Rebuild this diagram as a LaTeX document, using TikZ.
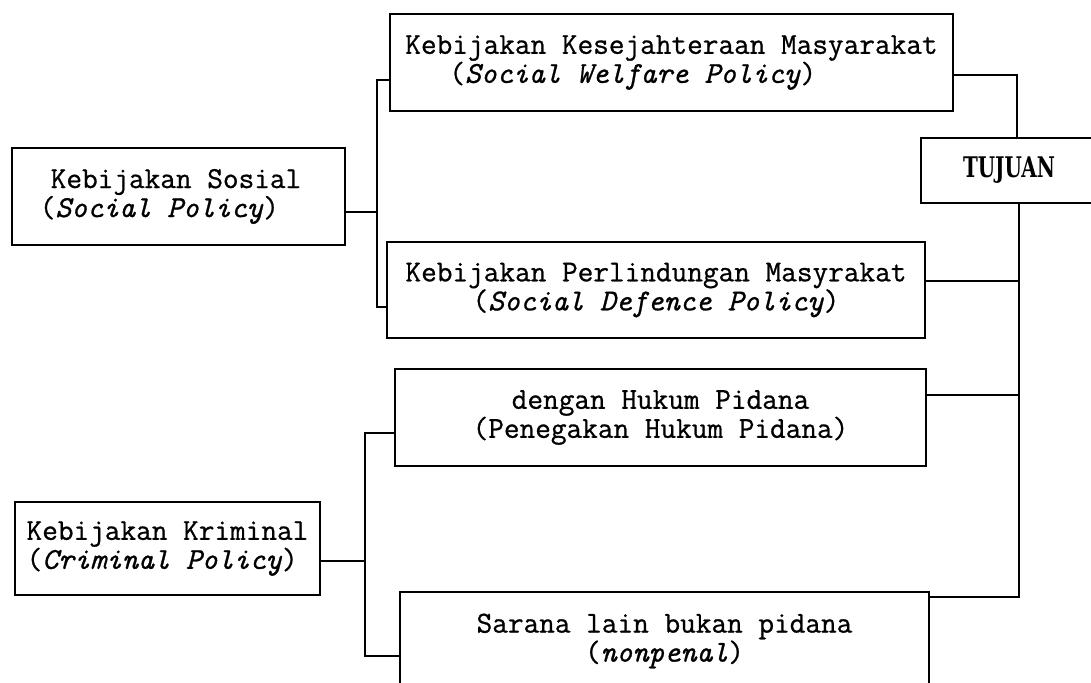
\documentclass[tikz,border=0pt]{standalone}
\usepackage{fontspec}
\usepackage{graphicx}
\usetikzlibrary{calc}
\newfontfamily\goalfont{DejaVu Serif}
\newfontfamily\typewfont{Latin Modern Mono}[FakeBold=0.8]
\tikzset{
  box/.style={draw, line width=1pt, inner sep=0pt, align=center,
    font=\typewfont\fontsize{15.2pt}{14.5pt}\selectfont},
  goal/.style={draw, line width=1pt, inner sep=0pt,
    font=\goalfont\bfseries\fontsize{14.2pt}{14pt}\selectfont},
  conn/.style={line width=1pt},
}
\begin{document}
\begin{tikzpicture}[x=0.5pt,y=-0.5pt]
\useasboundingbox (0,0) rectangle (1091,682);
\clip (0,0) rectangle (1091,682);
% boxes
\node[box, minimum width=166.5pt, minimum height=48.5pt, align=left] (sosial) at (178.5,196.5)
  {\hspace*{5.5pt}Kebijakan Sosial\hspace*{8pt}\\(\textit{Social Policy})};
\node[box, minimum width=281.5pt, minimum height=48.5pt, align=left] (welfare) at (671.5,62.5)
  {Kebijakan Kesejahteraan Masyarakat\\\hspace*{22pt}(\textit{Social Welfare Policy})};
\node[box, minimum width=269pt, minimum height=48pt] (defence) at (656,290)
  {Kebijakan Perlindungan Masyrakat\\(\textit{Social Defence Policy})};
\node[box, minimum width=265.5pt, minimum height=48.5pt] (hukum) at (660.5,417.5)
  {dengan Hukum Pidana\\(Penegakan Hukum Pidana)};
\node[box, minimum width=152.5pt, minimum height=46.5pt, align=left] (kriminal) at (167.5,548.5)
  {Kebijakan Kriminal\\(\textit{Criminal Policy})};
\node[box, minimum width=264.5pt, minimum height=49pt] (sarana) at (664.5,641)
  {Sarana lain bukan pidana\\(\textit{nonpenal})};
\node[goal, minimum width=88pt, minimum height=32.5pt] (tujuan) at (1009,170.5)
  {\scalebox{0.7}[1]{TUJUAN}};
% junction points
\coordinate (sTop) at (377,80);
\coordinate (sMid) at (377,212);
\coordinate (sBot) at (377,307);
\coordinate (kTop) at (365,433);
\coordinate (kMid) at (365,561);
\coordinate (kBot) at (365,656);
\coordinate (tTop) at (1017,75);
\coordinate (tDef) at (1019,281);
\coordinate (tHuk) at (1019,395);
\coordinate (tBot) at (1019,597);
% connectors
\draw[conn] (sosial.east |- sMid) -- (sMid);
\draw[conn] (welfare.west |- sTop) -- (sTop) -- (sBot) -- (defence.west |- sBot);
\draw[conn] (kriminal.east |- kMid) -- (kMid);
\draw[conn] (hukum.west |- kTop) -- (kTop) -- (kBot) -- (sarana.west |- kBot);
\draw[conn] (welfare.east |- tTop) -- (tTop) -- (tTop |- tujuan.north);
\draw[conn] (tBot |- tujuan.south) -- (tBot) -- (sarana.east |- tBot);
\draw[conn] (defence.east |- tDef) -- (tDef);
\draw[conn] (hukum.east |- tHuk) -- (tHuk);
\end{tikzpicture}
\end{document}
